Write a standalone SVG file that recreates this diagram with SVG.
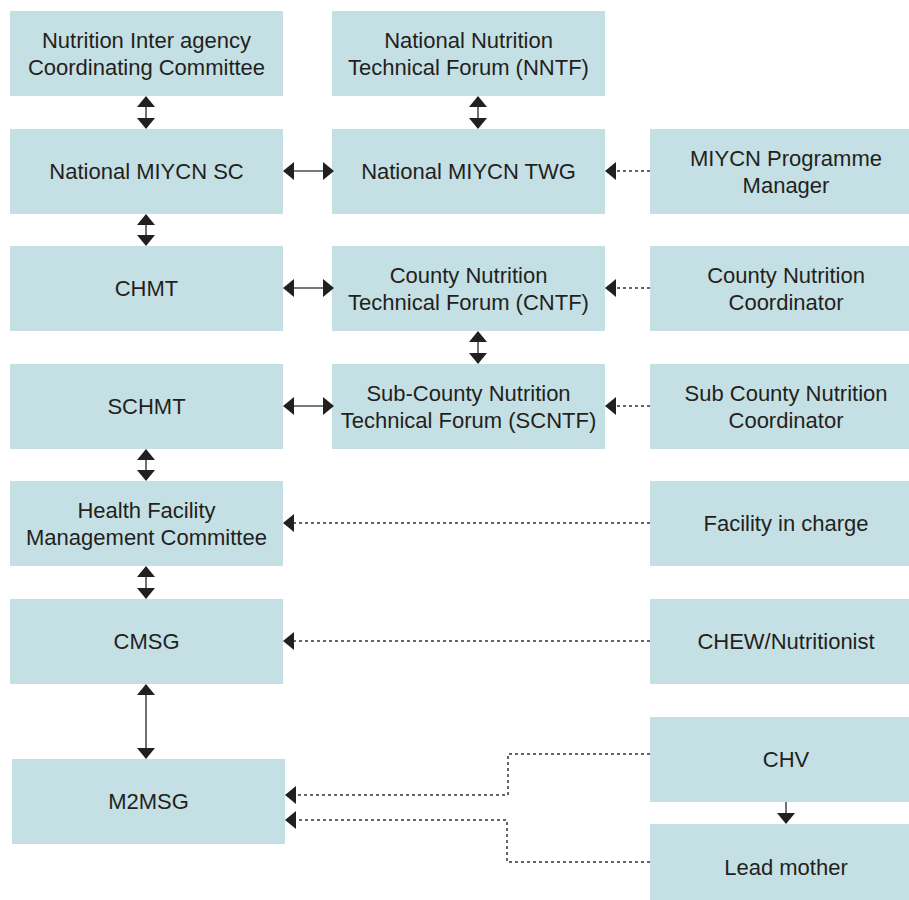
<svg xmlns="http://www.w3.org/2000/svg" width="909" height="900" viewBox="0 0 909 900">
<style>
.box{fill:#c5e0e4}
.t{font-family:"Liberation Sans",Arial,sans-serif;font-size:22px;fill:#231f20;text-anchor:middle}
.solid{stroke:#4d4d4d;stroke-width:1.6;fill:none}
.dot{stroke:#333;stroke-width:1.5;fill:none;stroke-dasharray:3 3}
</style>
<defs>
<marker id="ah" viewBox="0 0 11 18" refX="10" refY="9" markerWidth="11" markerHeight="18" markerUnits="userSpaceOnUse" orient="auto-start-reverse">
<path d="M0,0 L11,9 L0,18 z" fill="#231f20"/>
</marker>
</defs>
<rect width="909" height="900" fill="#fff"/>
<g id="n1"><rect class="box" x="10" y="11" width="273" height="85"/><text class="t" x="146.5" y="48">Nutrition Inter agency</text><text class="t" x="146.5" y="75">Coordinating Committee</text></g>
<g id="n2"><rect class="box" x="332" y="11" width="273" height="85"/><text class="t" x="468.5" y="48">National Nutrition</text><text class="t" x="468.5" y="75">Technical Forum (NNTF)</text></g>
<g id="n3"><rect class="box" x="10" y="129" width="273" height="85"/><text class="t" x="146.5" y="179">National MIYCN SC</text></g>
<g id="n4"><rect class="box" x="332" y="129" width="273" height="85"/><text class="t" x="468.5" y="179">National MIYCN TWG</text></g>
<g id="n5"><rect class="box" x="650" y="129" width="272" height="85"/><text class="t" x="786" y="166">MIYCN Programme</text><text class="t" x="786" y="193">Manager</text></g>
<g id="n6"><rect class="box" x="10" y="246" width="273" height="85"/><text class="t" x="146.5" y="296">CHMT</text></g>
<g id="n7"><rect class="box" x="332" y="246" width="273" height="85"/><text class="t" x="468.5" y="283">County Nutrition</text><text class="t" x="468.5" y="310">Technical Forum (CNTF)</text></g>
<g id="n8"><rect class="box" x="650" y="246" width="272" height="85"/><text class="t" x="786" y="283">County Nutrition</text><text class="t" x="786" y="310">Coordinator</text></g>
<g id="n9"><rect class="box" x="10" y="364" width="273" height="85"/><text class="t" x="146.5" y="414">SCHMT</text></g>
<g id="n10"><rect class="box" x="332" y="364" width="273" height="85"/><text class="t" x="468.5" y="401">Sub-County Nutrition</text><text class="t" x="468.5" y="428">Technical Forum (SCNTF)</text></g>
<g id="n11"><rect class="box" x="650" y="364" width="272" height="85"/><text class="t" x="786" y="401">Sub County Nutrition</text><text class="t" x="786" y="428">Coordinator</text></g>
<g id="n12"><rect class="box" x="10" y="481" width="273" height="85"/><text class="t" x="146.5" y="518">Health Facility</text><text class="t" x="146.5" y="545">Management Committee</text></g>
<g id="n13"><rect class="box" x="650" y="481" width="272" height="85"/><text class="t" x="786" y="531">Facility in charge</text></g>
<g id="n14"><rect class="box" x="10" y="599" width="273" height="85"/><text class="t" x="146.5" y="649">CMSG</text></g>
<g id="n15"><rect class="box" x="650" y="599" width="272" height="85"/><text class="t" x="786" y="649">CHEW/Nutritionist</text></g>
<g id="n16"><rect class="box" x="650" y="717" width="272" height="85"/><text class="t" x="786" y="767">CHV</text></g>
<g id="n17"><rect class="box" x="12" y="759" width="273" height="85"/><text class="t" x="148.5" y="809">M2MSG</text></g>
<g id="n18"><rect class="box" x="650" y="824" width="272" height="85"/><text class="t" x="786" y="875">Lead mother</text></g>
<g id="connectors">
<line class="solid" x1="146" y1="97" x2="146" y2="128" marker-start="url(#ah)" marker-end="url(#ah)"/>
<line class="solid" x1="478" y1="97" x2="478" y2="128" marker-start="url(#ah)" marker-end="url(#ah)"/>
<line class="solid" x1="146" y1="215" x2="146" y2="245" marker-start="url(#ah)" marker-end="url(#ah)"/>
<line class="solid" x1="478" y1="332" x2="478" y2="363" marker-start="url(#ah)" marker-end="url(#ah)"/>
<line class="solid" x1="146" y1="450" x2="146" y2="480" marker-start="url(#ah)" marker-end="url(#ah)"/>
<line class="solid" x1="146" y1="567" x2="146" y2="598" marker-start="url(#ah)" marker-end="url(#ah)"/>
<line class="solid" x1="146" y1="685" x2="146" y2="758" marker-start="url(#ah)" marker-end="url(#ah)"/>
<line class="solid" x1="786" y1="802" x2="786" y2="823" marker-end="url(#ah)"/>
<line class="solid" x1="284" y1="171" x2="333" y2="171" marker-start="url(#ah)" marker-end="url(#ah)"/>
<line class="solid" x1="284" y1="288" x2="333" y2="288" marker-start="url(#ah)" marker-end="url(#ah)"/>
<line class="solid" x1="284" y1="406" x2="333" y2="406" marker-start="url(#ah)" marker-end="url(#ah)"/>
<line class="dot" x1="650" y1="171" x2="606" y2="171" marker-end="url(#ah)"/>
<line class="dot" x1="650" y1="288" x2="606" y2="288" marker-end="url(#ah)"/>
<line class="dot" x1="650" y1="406" x2="606" y2="406" marker-end="url(#ah)"/>
<line class="dot" x1="650" y1="523" x2="284" y2="523" marker-end="url(#ah)"/>
<line class="dot" x1="650" y1="641" x2="284" y2="641" marker-end="url(#ah)"/>
<polyline class="dot" points="650,754 508,754 508,795 286,795" marker-end="url(#ah)"/>
<polyline class="dot" points="650,862 507,862 507,820 286,820" marker-end="url(#ah)"/>
</g>
</svg>
